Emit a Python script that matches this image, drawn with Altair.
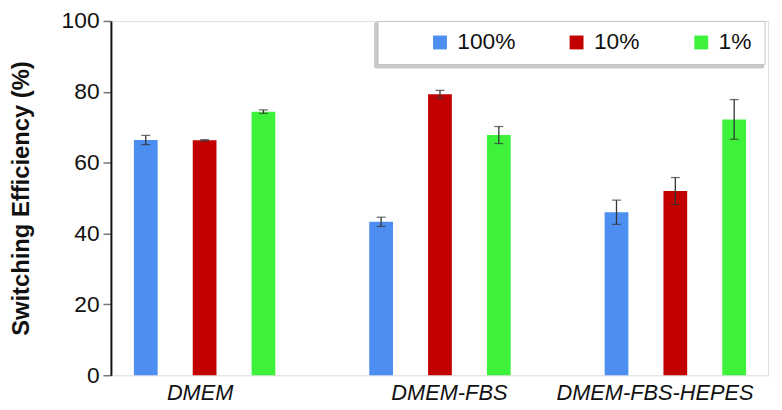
import altair as alt
import pandas as pd

groups = ["DMEM", "DMEM-FBS", "DMEM-FBS-HEPES"]
series = ["100%", "10%", "1%"]
values = {
    "100%": [66.4, 43.3, 46.0],
    "10%": [66.3, 79.3, 52.0],
    "1%": [74.4, 67.8, 72.2],
}
errors = {
    "100%": [1.3, 1.3, 3.4],
    "10%": [0.2, 1.1, 3.8],
    "1%": [0.5, 2.4, 5.6],
}
colors = ["#4d8ff0", "#c20000", "#3ef23c"]
y_ticks = [0, 20, 40, 60, 80, 100]

rows = []
for si, s in enumerate(series):
    for gi, g in enumerate(groups):
        v = values[s][gi]
        e = errors[s][gi]
        rows.append({"group": g, "series": s, "pos": gi + (si - 1) * 0.25,
                     "value": v, "lo": v - e, "hi": v + e, "order": si})
df = pd.DataFrame(rows)

label_arr = "[" + ",".join("'%s'" % g for g in groups) + "]"
xscale = alt.Scale(domain=[-0.377, 2.373], nice=False, zero=False)
xaxis = alt.Axis(
    values=[0, 1, 2], labelExpr=label_arr + "[datum.value]", title=None,
    ticks=False, grid=False, domain=False, labelFont="Liberation Sans",
    labelFontStyle="italic", labelFontSize=22, labelColor="#111",
    labelPadding=8, labelFlush=False, labelLimit=0, labelOverlap=False,
    labelOffset={"condition": [{"test": "datum.value == 0", "value": -5},
                               {"test": "datum.value == 2", "value": -21}],
                 "value": 9},
)
yscale = alt.Scale(domain=[0, 100], nice=False)
yaxis = alt.Axis(
    values=y_ticks, title="Switching Efficiency (%)", grid=False,
    titleFont="Liberation Sans", titleFontSize=24, titleFontWeight="bold",
    titleColor="#111", titlePadding=28,
    labelFont="Liberation Sans", labelFontSize=23, labelColor="#111",
    labelPadding=4, tickSize=8, tickColor="#777", tickWidth=1.5,
    domainColor="#111", domainWidth=2,
)

bars = alt.Chart(df).mark_bar(size=24).encode(
    x=alt.X("pos:Q", scale=xscale, axis=xaxis),
    y=alt.Y("value:Q", scale=yscale, axis=yaxis),
    color=alt.Color("series:N", sort=series,
                    scale=alt.Scale(domain=series, range=colors),
                    legend=alt.Legend(
                        orient="none", legendX=321, legendY=10,
                        direction="horizontal", title=None,
                        symbolType="square", symbolSize=196,
                        symbolStrokeWidth=0, labelFont="Liberation Sans",
                        labelFontSize=23, labelColor="#111",
                        columnPadding=50, labelOffset=6, padding=0,
                    )),
)

errbars = alt.Chart(df).mark_errorbar(
    ticks={"size": 9, "thickness": 1.3}, color="#333", thickness=1.3
).encode(
    x=alt.X("pos:Q", scale=xscale, title=None),
    y=alt.Y("lo:Q", scale=yscale, title="Switching Efficiency (%)"),
    y2=alt.Y2("hi:Q", title=None),
)

box_df = pd.DataFrame({"k": [0]})
shadow = alt.Chart(box_df).mark_rect(fill="#c8c8c8", cornerRadius=2).encode(
    x=alt.value(266), x2=alt.value(660), y=alt.value(1), y2=alt.value(48)
)
box = alt.Chart(box_df).mark_rect(fill="white", stroke="#c4c4c4", strokeWidth=1).encode(
    x=alt.value(270), x2=alt.value(661), y=alt.value(0.5), y2=alt.value(44)
)

chart = alt.layer(shadow, box, bars, errbars).properties(
    width=664, height=358,
    autosize=alt.AutoSizeParams(type="none"),
    padding={"left": 104, "top": 11, "right": 6, "bottom": 30},
).configure_view(stroke="#111", strokeWidth=2).configure(background="white")

chart.save("out.html", embed_options={"renderer": "svg", "actions": False})
